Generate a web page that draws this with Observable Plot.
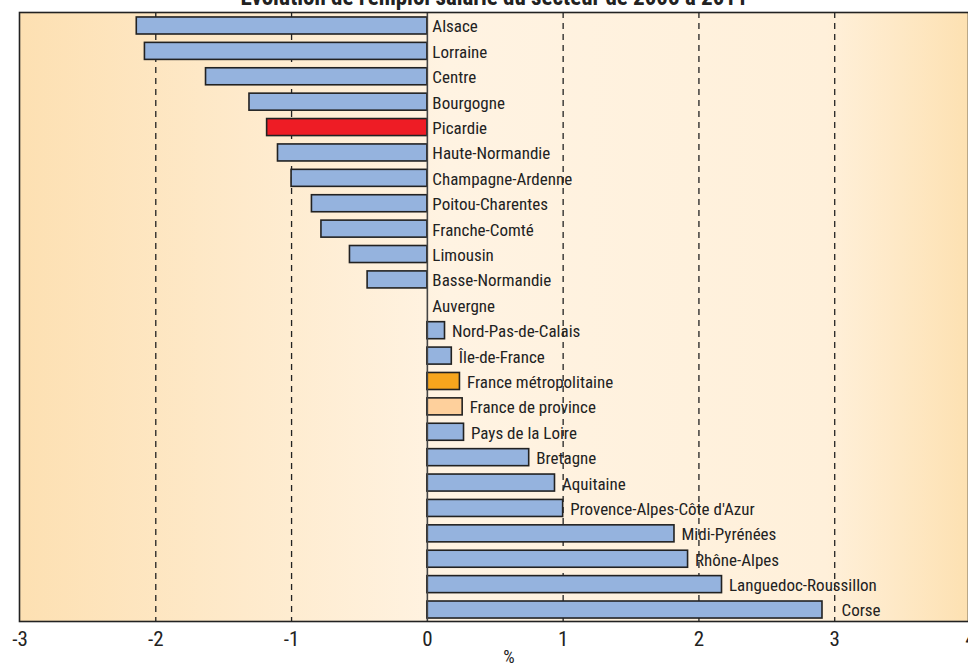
<!DOCTYPE html>
<html><head><meta charset="utf-8">
<script src="https://cdn.jsdelivr.net/npm/d3@7"></script>
<script src="https://cdn.jsdelivr.net/npm/@observablehq/plot@0.6"></script>
<style>
html,body{margin:0;padding:0;background:#fff;overflow:hidden}
#chart svg{display:block}
</style></head>
<body><div id="chart"></div>
<script>
const title = "Évolution de l'emploi salarié du secteur de 2005 à 2011";
const regions = ["Alsace","Lorraine","Centre","Bourgogne","Picardie","Haute-Normandie","Champagne-Ardenne","Poitou-Charentes","Franche-Comté","Limousin","Basse-Normandie","Auvergne","Nord-Pas-de-Calais","Île-de-France","France métropolitaine","France de province","Pays de la Loire","Bretagne","Aquitaine","Provence-Alpes-Côte d'Azur","Midi-Pyrénées","Rhône-Alpes","Languedoc-Roussillon","Corse"];
const values = [-2.14,-2.08,-1.63,-1.31,-1.18,-1.10,-1.00,-0.85,-0.78,-0.57,-0.44,0.0,0.13,0.18,0.24,0.26,0.27,0.75,0.94,1.0,1.82,1.92,2.17,2.91];
const kinds = regions.map(r => r === "Picardie" ? "pic" : r === "France métropolitaine" ? "fm" : r === "France de province" ? "fp" : "reg");
const xTicks = [-3,-2,-1,0,1,2,3,4];
const gridTicks = [-2,-1,1,2,3];
const colors = {reg:"#95b3de", pic:"#ee1c25", fm:"#f6a51d", fp:"#fed09c"};

const data = regions.map((r,i) => ({region:r, value:values[i], kind:kinds[i]}));
const font = "'Roboto Condensed','Liberation Sans Narrow','Arial Narrow',sans-serif";

const yTop = 12, yBot = 621;

const neg = data.filter(d => d.value <= 0);
const pos = data.filter(d => d.value > 0 && d.region !== "Corse");
const last = data.filter(d => d.region === "Corse");

const chart = Plot.plot({
  width: 968, height: 663,
  marginTop: yTop, marginBottom: 663 - yBot, marginLeft: 19, marginRight: 0,
  style: {fontFamily: font, background: "#fff", overflow: "hidden"},
  x: {domain: [-3, 4], range: [19.5, 970], axis: null},
  y: {domain: regions, range: [8.6, 626.4], padding: 0.33, round: false, axis: null},
  marks: [
    Plot.frame({fill: "url(#bgGrad)", stroke: null}),
    Plot.ruleX(gridTicks, {stroke: "#222", strokeWidth: 1.3, strokeDasharray: "6,5"}),
    Plot.barX(data, {y: "region", x1: 0, x2: "value", fill: d => colors[d.kind], stroke: "#222", strokeWidth: 1.6}),
    Plot.ruleX([0], {stroke: "#444", strokeWidth: 1.6}),
    Plot.text(neg, {y: "region", x: () => 0, text: "region", dx: 5, dy: 1, textAnchor: "start", fontSize: 17, fill: "#222"}),
    Plot.text(pos, {y: "region", x: "value", text: "region", dx: 7, dy: 1, textAnchor: "start", fontSize: 17, fill: "#222"}),
    Plot.text(last, {y: "region", x: "value", text: "region", dx: 19, dy: 1, textAnchor: "start", fontSize: 17, fill: "#222"}),
    Plot.frame({stroke: "#222", strokeWidth: 1.6, fill: null}),
    Plot.axisX(xTicks, {tickSize: 0, tickPadding: 10, fontSize: 21, tickFormat: d => String(d), fill: "#222", anchor: "bottom", label: null}),
    Plot.text(["%"], {frameAnchor: "bottom", x: () => 0.6, dy: 41, fontSize: 18, fill: "#222"}),
    Plot.text([title], {frameAnchor: "top", dy: -8, lineAnchor: "bottom", fontSize: 23, fontWeight: "bold", fill: "#222"})
  ]
});

const svg = d3.select(chart);
const defs = svg.insert("defs", ":first-child");
const g = defs.append("linearGradient").attr("id", "bgGrad").attr("x1", "0%").attr("x2", "100%").attr("y1", "0%").attr("y2", "0%");
g.append("stop").attr("offset", "0%").attr("stop-color", "#fde0b2");
g.append("stop").attr("offset", "45%").attr("stop-color", "#fff3e2");
g.append("stop").attr("offset", "85%").attr("stop-color", "#fff0da");
g.append("stop").attr("offset", "100%").attr("stop-color", "#fde1b2");
document.getElementById("chart").appendChild(chart);
</script>
</body></html>
